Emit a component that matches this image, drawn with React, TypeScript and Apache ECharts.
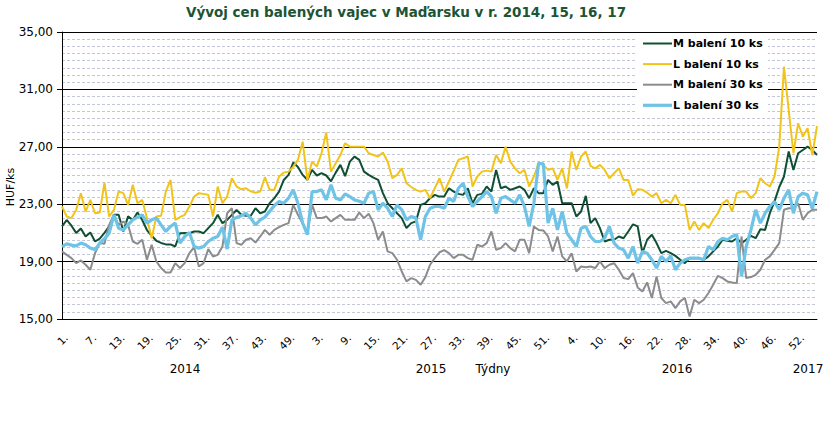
import React, { useEffect, useRef } from "react";
import * as echarts from "echarts";

const TITLE = "Vývoj cen balených vajec v Maďarsku v r. 2014, 15, 16, 17";
const Y_NAME = "HUF/ks";
const years = [2014, 2015, 2016, 2017];
const weeksInYear = [52, 53, 52, 4];
const bottomLabels = ["2014", "2015", "Týdny", "2016", "2017"];
const seriesNames = ["M balení 10 ks", "L balení 10 ks", "M balení 30 ks", "L balení 30 ks"];
const seriesColors = ["#0f4f33", "#f2c419", "#8c8c8c", "#6fc3e6"];
const seriesWidths = [2, 2, 2, 3.2];

const m10 = [
  21.45, 21.9, 21.5, 21.0, 21.3, 20.75, 21.03, 20.4, 20.6, 21.0,
  21.45, 22.26, 22.26, 21.1, 22.15, 21.9, 22.42, 21.9, 21.2, 20.8,
  20.45, 20.3, 20.2, 20.2, 20.05, 20.98, 21.0, 20.98, 21.1, 21.1,
  20.98, 21.33, 21.68, 22.26, 21.68, 21.91, 22.26, 22.6, 22.26, 22.2,
  22.19, 22.72, 22.37, 22.49, 23.07, 23.42, 23.88, 24.69, 25.04, 25.9,
  25.6, 25.04, 24.7, 25.39, 25.0, 25.16, 25.0, 24.6, 25.2, 25.74,
  24.95, 25.97, 26.32, 26.09, 25.27, 25.04, 24.85, 24.69, 23.77, 23.07,
  22.72, 22.37, 22.03, 21.33, 21.68, 21.8, 22.95, 23.07, 23.42, 23.65,
  23.53, 23.53, 24.11, 23.88, 23.72, 23.65, 24.11, 23.07, 23.65, 23.72,
  24.23, 23.88, 25.39, 24.11, 24.23, 24.0, 24.11, 24.23, 24.0, 23.42,
  24.11, 23.77, 23.77, 24.69, 24.35, 24.58, 23.07, 23.07, 23.07, 22.14,
  22.49, 23.58, 21.68, 22.03, 21.33, 20.4, 20.52, 20.52, 20.75, 20.63,
  21.1, 21.6, 21.45, 19.6, 20.52, 20.87, 20.29, 19.59, 19.75, 19.59,
  19.4, 19.13, 18.89, 19.24, 19.24, 19.24, 19.13, 19.36, 19.71, 20.05,
  20.52, 20.45, 20.4, 20.63, 20.29, 20.52, 20.8, 20.63, 21.26, 21.21,
  22.37, 23.2, 24.2, 24.93, 26.67, 25.39, 26.55, 26.78, 27.01, 26.78,
  26.43,
];

const l10 = [
  22.84, 22.14, 22.03, 22.6, 23.77, 22.49, 23.3, 22.37, 22.42, 24.51,
  22.14, 22.6, 23.88, 23.77, 22.95, 24.35, 23.07, 23.3, 22.03, 20.63,
  22.14, 22.19, 23.88, 24.69, 21.91, 22.1, 22.26, 22.84, 23.53, 23.77,
  23.72, 23.65, 22.14, 24.23, 23.07, 23.53, 24.81, 24.23, 24.04, 24.11,
  23.9, 23.8, 23.88, 24.88, 24.0, 24.0, 24.93, 25.2, 25.27, 25.6,
  26.09, 27.36, 24.69, 25.97, 25.62, 26.55, 27.99, 25.27, 25.85, 26.43,
  27.25, 27.01, 27.01, 27.01, 27.01, 26.55, 26.43, 26.32, 26.6, 25.97,
  24.81, 25.04, 25.5, 24.46, 24.2, 24.0, 23.88, 24.0, 23.42, 24.11,
  24.81, 23.88, 24.58, 25.3, 26.09, 26.2, 26.32, 24.23, 24.93, 25.27,
  25.34, 25.27, 26.43, 25.85, 27.01, 25.97, 25.5, 25.16, 25.39, 24.23,
  24.93, 25.85, 25.74, 25.39, 25.5, 24.69, 25.5, 24.11, 26.67, 25.39,
  26.32, 26.67, 25.67, 25.5, 25.74, 25.39, 24.81, 25.16, 25.5, 24.69,
  24.69, 23.6, 24.05, 24.0, 23.8, 23.53, 23.77, 23.07, 23.3, 23.07,
  23.65, 22.95, 22.95, 21.21, 21.79, 21.21, 21.68, 21.33, 21.91, 22.37,
  23.07, 23.3, 22.49, 23.77, 23.88, 23.88, 23.42, 23.77, 24.81, 24.46,
  24.23, 24.93, 27.01, 32.58, 29.57, 26.55, 28.64, 27.71, 28.29, 26.43,
  28.45,
];

const m30 = [
  19.71, 19.47, 19.24, 18.89, 19.08, 18.78, 18.43, 19.59, 20.29, 20.24,
  21.56, 22.26, 21.56, 21.79, 21.56, 20.4, 20.24, 20.52, 19.13, 20.17,
  19.01, 18.55, 18.24, 18.24, 18.89, 18.55, 18.89, 19.59, 20.0, 18.66,
  18.89, 19.87, 19.36, 19.47, 20.05, 22.37, 22.72, 20.29, 20.17, 20.52,
  20.63, 20.33, 20.75, 21.21, 20.87, 21.21, 21.4, 21.56, 21.68, 22.95,
  22.26, 21.68, 20.98, 22.95, 22.03, 22.03, 22.14, 21.79, 22.03, 22.26,
  21.91, 21.91, 21.91, 22.42, 22.03, 22.33, 21.68, 20.52, 21.1, 19.71,
  19.59, 19.13, 18.31, 17.62, 17.85, 17.73, 17.39, 17.92, 18.78, 19.24,
  19.65, 19.8, 19.59, 19.24, 19.47, 19.47, 19.24, 19.13, 20.17, 20.05,
  20.29, 21.1, 19.82, 19.94, 20.29, 19.94, 19.71, 20.52, 20.52, 19.59,
  21.45, 21.21, 21.17, 20.75, 19.71, 20.75, 19.36, 19.01, 19.59, 18.31,
  18.66, 18.61, 18.66, 18.55, 19.01, 18.55, 18.78, 18.89, 18.43, 17.85,
  17.78, 18.2, 17.2, 16.92, 17.55, 16.46, 17.97, 16.46, 16.11, 16.23,
  15.76, 16.23, 16.46, 15.18, 16.34, 16.11, 16.34, 16.81, 17.39, 18.01,
  17.85, 17.62, 17.55, 17.5, 20.75, 17.85, 17.92, 18.08, 18.43, 19.13,
  19.36, 19.82, 20.29, 22.61, 22.72, 22.72, 23.07, 21.91, 22.37, 22.61,
  22.61,
];

const l30 = [
  20.05, 20.24, 20.15, 20.1, 20.29, 20.17, 19.94, 19.82, 20.29, 20.6,
  20.98, 22.26, 21.33, 21.21, 21.56, 21.91, 22.1, 22.26, 21.68, 21.91,
  22.03, 21.56, 21.1, 21.45, 21.68, 20.29, 20.75, 21.03, 20.05, 19.94,
  20.05, 20.4, 20.63, 20.75, 21.4, 19.87, 21.91, 22.07, 22.2, 22.37,
  22.03, 21.56, 21.91, 22.1, 22.5, 22.9, 23.19, 23.07, 23.42, 24.0,
  23.07, 21.68, 20.87, 23.88, 23.88, 24.0, 23.3, 24.35, 23.42, 23.3,
  23.72, 23.53, 23.3, 23.2, 23.07, 23.77, 23.88, 22.61, 23.07, 22.72,
  22.14, 22.95, 22.61, 21.91, 22.14, 22.03, 20.52, 22.14, 22.72, 22.84,
  22.84, 22.72, 23.42, 23.19, 24.11, 24.46, 23.53, 22.84, 23.19, 23.53,
  23.88, 23.53, 22.37, 23.42, 23.53, 23.3, 23.07, 23.65, 22.84, 21.45,
  23.07, 25.85, 25.81, 21.68, 22.72, 21.21, 22.49, 20.98, 20.52, 20.05,
  21.33, 21.45, 20.75, 20.4, 20.4, 20.63, 21.45, 20.29, 19.94, 19.82,
  19.24, 20.05, 18.89, 19.71, 19.59, 19.13, 18.55, 19.36, 19.01, 19.4,
  18.43, 18.89, 19.13, 19.24, 19.24, 19.24, 19.13, 20.05, 19.82, 20.4,
  20.63, 20.52, 20.75, 20.87, 17.97, 20.05, 21.21, 22.61, 21.68, 22.37,
  22.84, 23.19, 22.61, 23.42, 24.0, 22.37, 23.53, 23.77, 23.65, 22.7,
  23.88,
];

const seriesData = [m10, l10, m30, l30];

const categories: string[] = [];
years.forEach((y, k) => {
  for (let w = 1; w <= weeksInYear[k]; w++) categories.push(`${y}-${w}`);
});

const FONT = "DejaVu Sans";

export default function App() {
  const ref = useRef<HTMLDivElement>(null);
  useEffect(() => {
    if (!ref.current) return;
    const chart = echarts.init(ref.current, undefined, { renderer: "svg" });
    const bottomX = [185, 431, 493, 677, 808];
    const legendY0 = 43.5;
    const legendStep = 20.6;
    const graphic: any[] = [
      {
        type: "text",
        x: 406,
        y: 12,
        style: {
          text: TITLE,
          fill: "#1c5434",
          fontFamily: FONT,
          fontWeight: "bold",
          fontSize: 13.5,
          align: "center",
          verticalAlign: "middle",
        },
      },
      {
        type: "text",
        x: 10,
        y: 187,
        rotation: Math.PI / 2,
        style: {
          text: Y_NAME,
          fill: "#000",
          fontFamily: FONT,
          fontSize: 11,
          align: "center",
          verticalAlign: "middle",
        },
      },
      ...bottomLabels.map((t, k) => ({
        type: "text",
        x: bottomX[k],
        y: 369,
        style: {
          text: t,
          fill: "#000",
          fontFamily: FONT,
          fontSize: 12,
          align: "center",
          verticalAlign: "middle",
        },
      })),
      {
        type: "rect",
        shape: { x: 637, y: 33, width: 131, height: 85 },
        style: { fill: "#fff" },
        z: 100,
      },
      ...seriesNames.map((n, k) => ({
        type: "line",
        z: 101,
        shape: { x1: 643, y1: legendY0 + k * legendStep, x2: 672, y2: legendY0 + k * legendStep },
        style: { stroke: seriesColors[k], lineWidth: seriesWidths[k] },
      })),
      ...seriesNames.map((n, k) => ({
        type: "text",
        z: 101,
        x: 673,
        y: legendY0 + k * legendStep,
        style: {
          text: n,
          fill: "#000",
          fontFamily: FONT,
          fontWeight: "bold",
          fontSize: 11,
          align: "left",
          verticalAlign: "middle",
        },
      })),
    ];

    chart.setOption({
      animation: false,
      backgroundColor: "#fff",
      grid: { left: 62, right: 15, top: 32, bottom: 109, containLabel: false },
      xAxis: {
        type: "category",
        data: categories,
        boundaryGap: false,
        axisLine: { show: true, lineStyle: { color: "#000", width: 1 } },
        axisTick: { show: false },
        splitLine: { show: false },
        axisLabel: {
          interval: 5,
          rotate: 45,
          margin: 13,
          verticalAlign: "top",
          color: "#000",
          fontFamily: FONT,
          fontSize: 10.5,
          formatter: (v: string) => v.split("-")[1] + ".",
        },
      },
      yAxis: {
        type: "value",
        min: 15,
        max: 35,
        interval: 4,
        axisLine: { show: true, lineStyle: { color: "#000", width: 1 } },
        axisTick: { show: true, length: 5, lineStyle: { color: "#000" } },
        axisLabel: {
          color: "#000",
          fontFamily: FONT,
          fontSize: 12,
          margin: 9,
          formatter: (v: number) => v.toFixed(2).replace(".", ","),
        },
        splitLine: { show: true, lineStyle: { color: "#000", width: 1 } },
        minorTick: { show: false, splitNumber: 8 },
        minorSplitLine: { show: true, lineStyle: { color: "#c2c7dc", width: 1, type: [3, 2] } },
      },
      series: seriesNames.map((n, k) => ({
        name: n,
        type: "line",
        data: seriesData[k],
        symbol: "none",
        smooth: false,
        lineStyle: { color: seriesColors[k], width: seriesWidths[k] },
        itemStyle: { color: seriesColors[k] },
        z: 2 + k,
      })),
      graphic,
    });
    return () => chart.dispose();
  }, []);
  return (
    <div
      ref={ref}
      style={{ position: "fixed", left: 0, top: 0, width: 832, height: 428, background: "#fff" }}
    />
  );
}
